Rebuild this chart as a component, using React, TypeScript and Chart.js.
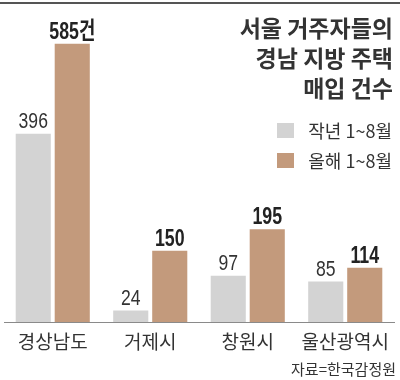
import React, { useEffect, useRef } from "react";
import { Chart, registerables } from "chart.js";

Chart.register(...registerables);

const categories = ["경상남도", "거제시", "창원시", "울산광역시"];
const lastYearValues = [396, 24, 97, 85];
const thisYearValues = [585, 150, 195, 114];
const seriesNames = ["작년 1~8월", "올해 1~8월"];
const titleLines = ["서울 거주자들의", "경남 지방 주택", "매입 건수"];
const unitSuffix = "건";
const sourceText = "자료=한국감정원";

const GREY = "#d3d3d3";
const BROWN = "#c39a7c";
const NUM_FONT = "'Liberation Sans', Arial, 'Noto Sans CJK KR', sans-serif";
const KR_FONT = "'Noto Sans CJK KR', 'Noto Sans', sans-serif";

const valueLabelPlugin = {
  id: "valueLabels",
  afterDatasetsDraw(chart: any) {
    const ctx = chart.ctx;
    chart.data.datasets.forEach((ds: any, di: number) => {
      const meta = chart.getDatasetMeta(di);
      meta.data.forEach((el: any, i: number) => {
        const v = ds.data[i];
        let text = String(v);
        if (di === 1 && i === 0) text += unitSuffix;
        ctx.save();
        ctx.textAlign = "center";
        ctx.textBaseline = "alphabetic";
        ctx.fillStyle = di === 1 ? "#222" : "#333";
        ctx.font = di === 1 ? `bold 24px ${NUM_FONT}` : `22px ${NUM_FONT}`;
        ctx.translate(el.x, el.y - (di === 1 ? 5 : 6));
        ctx.scale(di === 1 ? 0.74 : 0.8, 1);
        ctx.fillText(text, 0, 0);
        ctx.restore();
      });
    });
  },
};

export default function App() {
  const canvasRef = useRef<HTMLCanvasElement | null>(null);

  useEffect(() => {
    document.body.style.margin = "0";
    const canvas = canvasRef.current;
    if (!canvas) return;
    const chart = new Chart(canvas, {
      type: "bar",
      data: {
        labels: categories,
        datasets: [
          {
            label: seriesNames[0],
            data: lastYearValues,
            backgroundColor: GREY,
            categoryPercentage: 0.8,
            barPercentage: 0.9,
          },
          {
            label: seriesNames[1],
            data: thisYearValues,
            backgroundColor: BROWN,
            categoryPercentage: 0.8,
            barPercentage: 0.9,
          },
        ],
      },
      options: {
        responsive: false,
        animation: false,
        layout: { padding: { top: 20, left: 4, right: 6, bottom: 0 } },
        plugins: {
          legend: { display: false },
          title: { display: false },
          tooltip: { enabled: false },
        },
        scales: {
          x: {
            grid: { display: false },
            border: { display: true, color: "#8a8a8a", width: 1 },
            ticks: {
              color: "#333",
              font: { family: KR_FONT, size: 19 },
              padding: 0,
            },
            afterFit: (scale: any) => {
              scale.height = 58;
            },
          },
          y: {
            display: false,
            min: 0,
            max: 635,
          },
        },
      },
      plugins: [valueLabelPlugin],
    });
    return () => chart.destroy();
  }, []);

  return (
    <div style={{ position: "relative", width: 400, height: 380, background: "#fff", overflow: "hidden" }}>
      <canvas ref={canvasRef} width={400} height={380} style={{ position: "absolute", left: 0, top: 0, width: 400, height: 380 }} />
      <div style={{ position: "absolute", left: 0, top: 2, width: 400, borderTop: "2px solid #555" }} />
      <div
        style={{
          position: "absolute",
          right: 7,
          top: 12,
          textAlign: "right",
          fontFamily: KR_FONT,
          fontWeight: 700,
          fontSize: 23,
          lineHeight: "30px",
          color: "#333",
        }}
      >
        {titleLines.map((l, i) => (
          <div key={i}>{l}</div>
        ))}
      </div>
      <div
        style={{
          position: "absolute",
          right: 8,
          top: 115,
          fontFamily: KR_FONT,
          fontSize: 18,
          color: "#333",
        }}
      >
        {seriesNames.map((n, i) => (
          <div key={i} style={{ display: "flex", alignItems: "center", justifyContent: "flex-end", height: 30 }}>
            <span style={{ display: "inline-block", width: 17, height: 15, background: i === 0 ? GREY : BROWN, marginRight: 14 }} />
            <span>{n}</span>
          </div>
        ))}
      </div>
      <div
        style={{
          position: "absolute",
          right: 4,
          top: 358,
          fontFamily: KR_FONT,
          fontSize: 15,
          lineHeight: "22px",
          color: "#333",
        }}
      >
        {sourceText}
      </div>
    </div>
  );
}
